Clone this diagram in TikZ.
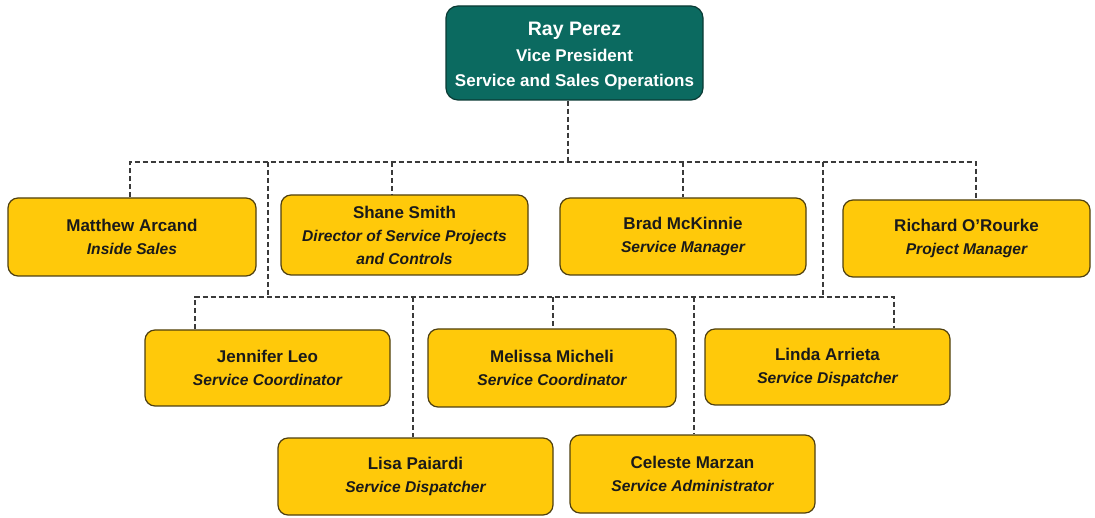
\documentclass[tikz,border=0pt]{standalone}
\usepackage{fontspec}
\setmainfont{Liberation Sans}
\definecolor{gold}{HTML}{FFC90A}
\definecolor{goldborder}{HTML}{4F4010}
\definecolor{teal}{HTML}{0B6A60}
\definecolor{tealborder}{HTML}{0A3A34}
\definecolor{textdark}{HTML}{1A1A1A}
\definecolor{conncol}{HTML}{3A3A3A}
\newcommand{\nm}{\fontsize{17}{23}\selectfont\bfseries}
\newcommand{\ttl}{\fontsize{15.6}{23}\selectfont\bfseries\itshape}
\begin{document}
\begin{tikzpicture}[x=1pt,y=-1pt,
  box/.style={draw=goldborder, line width=1.2pt, fill=gold, rounded corners=10pt,
    align=center, inner sep=0pt, text=textdark, font={\fontsize{17}{23}\selectfont}},
  topbox/.style={draw=tealborder, line width=1.2pt, fill=teal, rounded corners=12pt,
    align=center, inner sep=0pt, text=white, font={\fontsize{17}{25.5}\selectfont}},
  conn/.style={draw=conncol, line width=1.1pt, dash pattern=on 5pt off 3pt}]
\useasboundingbox (0,0) rectangle (1095,518);

% nodes
\node[topbox, minimum width=257pt, minimum height=94pt] (ray) at (574.5,53) {};
\node[align=center, inner sep=0pt, text=white, font={\fontsize{17}{25.5}\selectfont}]
  (raytext) at (574.5,56.5)
  {\fontsize{19.5}{27}\selectfont\bfseries Ray Perez\\
   \bfseries Vice President\\
   \bfseries Service and Sales Operations};
\node[box, minimum width=248pt, minimum height=78pt] (matt) at (132,237)
  {\nm Matthew Arcand\\\ttl Inside Sales};
\node[box, minimum width=247pt, minimum height=80pt] (shane) at (404.5,235)
  {\nm Shane Smith\\\ttl Director of Service Projects\\\ttl and Controls};
\node[box, minimum width=246pt, minimum height=77pt] (brad) at (683,236.5)
  {\nm Brad McKinnie\\\ttl Service Manager};
\node[box, minimum width=247pt, minimum height=77pt] (rich) at (966.5,238.5)
  {\nm Richard O’Rourke\\\ttl Project Manager};
\node[box, minimum width=245pt, minimum height=76pt] (jen) at (267.5,368)
  {\nm Jennifer Leo\\\ttl Service Coordinator};
\node[box, minimum width=248pt, minimum height=78pt] (mel) at (552,368)
  {\nm Melissa Micheli\\\ttl Service Coordinator};
\node[box, minimum width=245pt, minimum height=76pt] (linda) at (827.5,367)
  {\nm Linda Arrieta\\\ttl Service Dispatcher};
\node[box, minimum width=275pt, minimum height=77pt] (lisa) at (415.5,476.5)
  {\nm Lisa Paiardi\\\ttl Service Dispatcher};
\node[box, minimum width=245pt, minimum height=78pt] (cel) at (692.5,474)
  {\nm Celeste Marzan\\\ttl Service Administrator};

% bus coordinates
\coordinate (tr) at (568,162);
\coordinate (bl) at (130,162);
\coordinate (br) at (976,162);
\coordinate (dshane) at (392,162);
\coordinate (dbrad) at (683,162);
\coordinate (sl) at (268,162);
\coordinate (sr) at (823,162);
\coordinate (ll) at (195,297);
\coordinate (lr) at (894,297);
\coordinate (dlisa) at (413,297);
\coordinate (dmel) at (553,297);
\coordinate (dcel) at (694,297);

% connectors
\draw[conn] (tr |- ray.south) -- (tr);
\draw[conn] (bl |- matt.north) -- (bl) -- (br) -- (br |- rich.north);
\draw[conn] (dshane) -- (dshane |- shane.north);
\draw[conn] (dbrad) -- (dbrad |- brad.north);
\draw[conn] (sl) -- (sl |- ll);
\draw[conn] (sr) -- (sr |- lr);
\draw[conn] (ll |- jen.north) -- (ll) -- (lr) -- (lr |- linda.north);
\draw[conn] (dlisa) -- (dlisa |- lisa.north);
\draw[conn] (dmel) -- (dmel |- mel.north);
\draw[conn] (dcel) -- (dcel |- cel.north);
\end{tikzpicture}
\end{document}
